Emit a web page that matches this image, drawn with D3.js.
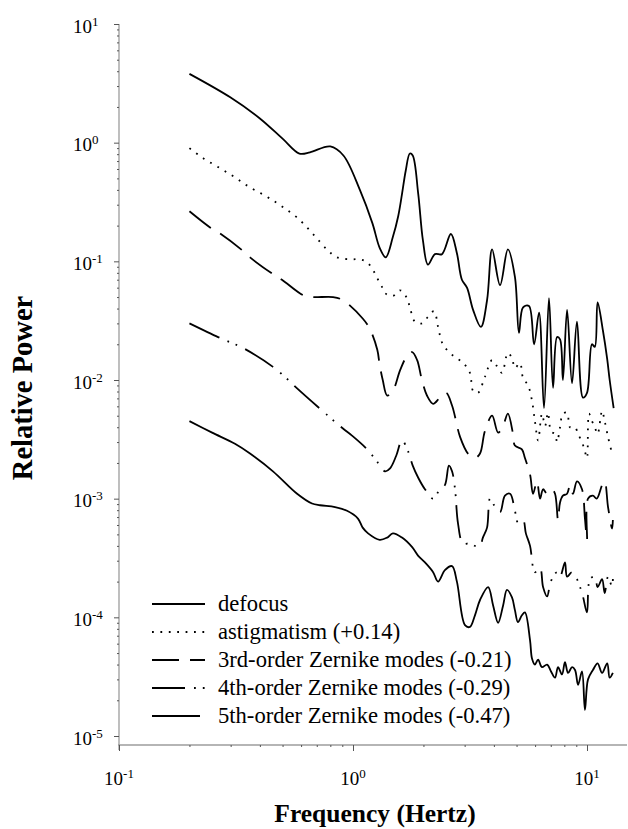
<!DOCTYPE html>
<html>
<head>
<meta charset="utf-8">
<script src="https://cdn.jsdelivr.net/npm/d3@7"></script>
<style>
	body { margin: 0; background: #fff; }
	svg { display: block; }
	text { font-family: "Liberation Serif", "Times New Roman", serif; fill: #000; }
</style>
</head>
<body>
<svg id="chart" width="628" height="829"></svg>
<script>
//Tick values
var xTicks = [0.1, 1, 10];
var yTicks = [1e-5, 1e-4, 1e-3, 1e-2, 1e-1, 1, 10];

//Legend labels
var legendLabels = [
	"defocus",
	"astigmatism (+0.14)",
	"3rd-order Zernike modes (-0.21)",
	"4th-order Zernike modes (-0.29)",
	"5th-order Zernike modes (-0.47)"
];

//Spectra (frequency in Hz, relative power)
var defocusFreq = [0.2,0.3,0.4,0.5,0.59,0.655,0.8,0.91,1.07,1.21,1.3,1.38,1.48,1.56,1.62,1.68,1.75,1.8,1.9,1.99,2.09,2.24,2.4,2.62,2.78,2.92,3.07,3.26,3.52,3.74,3.93,4.25,4.59,4.92,5.12,5.33,5.65,5.94,6.24,6.55,6.88,7.16,7.45,7.67,7.89,8.22,8.63,9.06,9.61,10.0,10.5,10.8,11.1,11.7,12.2,12.5,13.0];
var defocusVals = [3.8,2.4,1.6,1.08,0.81,0.83,0.93,0.78,0.40,0.21,0.13,0.108,0.16,0.24,0.37,0.58,0.81,0.78,0.37,0.15,0.094,0.115,0.115,0.17,0.117,0.070,0.060,0.039,0.028,0.047,0.126,0.063,0.126,0.074,0.025,0.041,0.042,0.020,0.037,0.0058,0.049,0.0086,0.023,0.022,0.010,0.039,0.0094,0.031,0.0071,0.0078,0.020,0.019,0.045,0.026,0.015,0.010,0.0058];

var astigFreq = [0.2,0.229,0.27,0.313,0.363,0.429,0.497,0.582,0.675,0.774,0.855,0.971,1.07,1.15,1.22,1.27,1.33,1.37,1.48,1.59,1.70,1.75,1.84,1.97,2.09,2.22,2.31,2.42,2.68,2.95,3.16,3.26,3.42,3.66,3.93,4.12,4.33,4.59,4.78,4.92,5.17,5.33,5.60,5.82,5.99,6.18,6.42,6.62,6.81,7.02,7.30,7.45,7.67,7.89,8.22,8.46,8.89,9.16,9.52,9.80,10.0,10.2,10.5,10.8,11.1,11.6,11.9,12.3,12.8];
var astigVals = [0.90,0.74,0.61,0.51,0.42,0.35,0.29,0.23,0.17,0.126,0.108,0.104,0.104,0.098,0.084,0.072,0.061,0.054,0.051,0.057,0.049,0.041,0.031,0.030,0.034,0.038,0.028,0.020,0.016,0.014,0.0115,0.0081,0.0078,0.0106,0.0147,0.0131,0.0115,0.0169,0.0153,0.0126,0.0139,0.0104,0.0090,0.0067,0.0045,0.0031,0.0052,0.0041,0.0053,0.0037,0.0035,0.0030,0.0040,0.0052,0.0053,0.0040,0.0040,0.0035,0.0030,0.0025,0.0022,0.0052,0.0045,0.0040,0.0035,0.0055,0.0045,0.0033,0.0024];

var thirdFreq = [0.2,0.245,0.27,0.336,0.363,0.455,0.497,0.611,0.668,0.822,0.906,1.10,1.18,1.27,1.30,1.34,1.40,1.48,1.59,1.70,1.79,1.88,1.97,2.07,2.20,2.35,2.50,2.65,2.87,3.10,3.32,3.49,3.66,3.93,4.17,4.38,4.59,4.83,4.92,5.27,5.43,5.71,5.88,6.11,6.30,6.49,6.75,7.08,7.30,7.52,7.67,7.89,8.22,8.46,8.71,9.06,9.52,9.80,10.0,10.1,10.6,11.0,11.6,11.9,12.3,12.8,12.9];
var thirdVals = [0.264,0.193,0.172,0.124,0.108,0.078,0.070,0.052,0.050,0.050,0.047,0.033,0.027,0.018,0.0134,0.0100,0.0074,0.0081,0.0121,0.0159,0.0172,0.0147,0.0100,0.0074,0.0063,0.0071,0.0078,0.0061,0.0033,0.0024,0.0022,0.0024,0.0037,0.0050,0.0036,0.0041,0.0052,0.0035,0.0028,0.0026,0.0022,0.0016,0.0011,0.0014,0.0010,0.0012,0.0011,0.0012,0.0011,0.00066,0.00093,0.00106,0.0011,0.0013,0.0011,0.0014,0.0012,0.00068,0.00045,0.0010,0.00106,0.0010,0.0013,0.0014,0.00085,0.00056,0.00066];

var fourthFreq = [0.2,0.265,0.29,0.339,0.455,0.538,0.577,0.782,0.906,0.99,1.15,1.28,1.37,1.44,1.53,1.62,1.72,1.80,1.90,2.03,2.20,2.35,2.47,2.57,2.65,2.73,2.81,2.95,3.16,3.32,3.49,3.59,3.74,3.85,4.01,4.25,4.46,4.69,4.92,5.07,5.33,5.48,5.71,5.99,6.30,6.49,6.75,6.95,7.16,7.45,7.67,8.05,8.22,8.63,9.06,9.34,9.61,10.0,10.3,10.8,11.1,11.6,11.9,12.3,12.8,12.9];
var fourthVals = [0.030,0.023,0.0213,0.0186,0.0129,0.0097,0.0085,0.0050,0.0039,0.0034,0.0026,0.0020,0.0017,0.0018,0.0023,0.0031,0.0025,0.0019,0.0015,0.0012,0.0010,0.0012,0.0013,0.0019,0.0017,0.0012,0.00062,0.00042,0.00042,0.00040,0.00040,0.00047,0.00057,0.0010,0.00088,0.00077,0.00106,0.0011,0.00079,0.00063,0.00066,0.00051,0.00040,0.00024,0.00026,0.00018,0.00015,0.00019,0.00022,0.00024,0.00022,0.00029,0.00022,0.00024,0.00021,0.00018,0.00015,0.00011,0.00021,0.00022,0.00018,0.00021,0.00016,0.00022,0.00018,0.00021];

var fifthFreq = [0.2,0.25,0.313,0.363,0.455,0.577,0.668,0.723,0.838,0.943,1.05,1.10,1.16,1.30,1.40,1.48,1.62,1.79,1.90,2.03,2.20,2.31,2.47,2.65,2.78,3.01,3.16,3.32,3.49,3.78,3.97,4.17,4.38,4.55,4.78,4.92,5.07,5.27,5.43,5.71,5.82,5.99,6.18,6.42,6.75,7.02,7.30,7.52,7.82,8.05,8.30,8.63,8.89,9.16,9.52,9.80,10.1,10.6,11.1,11.6,12.2,12.5,12.9];
var fifthVals = [0.0045,0.0036,0.0029,0.0024,0.0017,0.0011,0.00091,0.00088,0.00085,0.00079,0.00068,0.00057,0.00051,0.00045,0.00047,0.00051,0.00047,0.00039,0.00033,0.00029,0.00024,0.00020,0.00025,0.00027,0.00020,8.6e-5,8.3e-5,1.04e-4,1.4e-4,1.8e-4,1.26e-4,9.0e-5,1.26e-4,1.7e-4,1.47e-4,1.15e-4,9.1e-5,1.04e-4,1.1e-4,6.4e-5,4.5e-5,4.0e-5,4.4e-5,3.8e-5,4.0e-5,3.5e-5,3.1e-5,3.8e-5,3.3e-5,4.2e-5,3.4e-5,3.8e-5,3.6e-5,2.7e-5,3.5e-5,1.66e-5,3.0e-5,3.6e-5,4.1e-5,3.4e-5,4.1e-5,3.1e-5,3.4e-5];

var series = [
	{freq: defocusFreq, vals: defocusVals, dash: null, legendEnd: 205},
	{freq: astigFreq, vals: astigVals, dash: "1.8,6.6", legendEnd: 205},
	{freq: thirdFreq, vals: thirdVals, dash: "27,11", legendEnd: 205},
	{freq: fourthFreq, vals: fourthVals, dash: "33,9,1.8,7,1.8,9", legendEnd: 205},
	{freq: fifthFreq, vals: fifthVals, dash: null, legendEnd: 200}
];

var svg = d3.select("#chart");

//Set up the scales
var axisLeftX = 119, axisBottomY = 745;
var xScale = d3.scaleLog().domain([0.1, 10]).range([119, 587]);
var yScale = d3.scaleLog().domain([1e-5, 10]).range([736, 24]);

//Minor tick values
var xMinor = [], yMinor = [];
[0.1, 1, 10].forEach(function(d){
	for (var k = 2; k <= 9; k++){
		if (d * k < 14.5) xMinor.push(d * k);
	}
});
yTicks.slice(0, -1).forEach(function(d){
	for (var k = 2; k <= 9; k++) yMinor.push(d * k);
});

//Axis lines
svg.append("line")
	.attr("x1", axisLeftX).attr("x2", axisLeftX)
	.attr("y1", 24).attr("y2", 750)
	.attr("stroke", "#9c9c9c").attr("stroke-width", 1.3);
svg.append("line")
	.attr("x1", axisLeftX - 1).attr("x2", 627)
	.attr("y1", axisBottomY).attr("y2", axisBottomY)
	.attr("stroke", "#9c9c9c").attr("stroke-width", 1.3);

//Ticks
function styleTicks(g){
	g.select(".domain").remove();
	g.selectAll(".tick line").attr("stroke", "#555").attr("stroke-width", 1);
}
svg.append("g")
	.attr("transform", "translate(" + axisLeftX + ",0)")
	.call(d3.axisLeft(yScale).tickValues(yTicks).tickSize(5).tickFormat(""))
	.call(styleTicks);
svg.append("g")
	.attr("transform", "translate(" + axisLeftX + ",0)")
	.call(d3.axisLeft(yScale).tickValues(yMinor).tickSize(2).tickFormat(""))
	.call(styleTicks);
svg.append("g")
	.attr("transform", "translate(0," + axisBottomY + ")")
	.call(d3.axisBottom(xScale).tickValues(xTicks).tickSize(6).tickFormat(""))
	.call(styleTicks);
svg.append("g")
	.attr("transform", "translate(0," + axisBottomY + ")")
	.call(d3.axisBottom(xScale).tickValues(xMinor).tickSize(2).tickFormat(""))
	.call(styleTicks);

//Tick labels with superscript exponents
function powerLabel(sel){
	sel.append("tspan").text("10");
	sel.append("tspan")
		.attr("dy", -7)
		.attr("font-size", 13)
		.text(function(d){ return String(Math.round(Math.log10(d))); });
}
svg.selectAll(".ylabel")
	.data(yTicks)
	.enter().append("text")
	.attr("class", "ylabel")
	.attr("x", 73)
	.attr("y", function(d){ return yScale(d) + 8.5; })
	.attr("font-size", 19)
	.call(powerLabel);
svg.selectAll(".xlabel")
	.data(xTicks)
	.enter().append("text")
	.attr("class", "xlabel")
	.attr("x", function(d){ return xScale(d); })
	.attr("y", 785)
	.attr("text-anchor", "middle")
	.attr("font-size", 19)
	.call(powerLabel);

//Draw the spectra
var line = d3.line()
	.x(function(d){ return xScale(d[0]); })
	.y(function(d){ return yScale(d[1]); })
	.curve(d3.curveCatmullRom.alpha(0.5));

series.forEach(function(s){
	svg.append("path")
		.datum(d3.zip(s.freq, s.vals))
		.attr("d", line)
		.attr("fill", "none")
		.attr("stroke", "#000")
		.attr("stroke-width", 1.8)
		.attr("stroke-linejoin", "round")
		.attr("stroke-dasharray", s.dash);
});

//Legend
var legend = svg.append("g");
series.forEach(function(s, i){
	var ly = 604 + i * 28;
	legend.append("line")
		.attr("x1", 152).attr("x2", s.legendEnd)
		.attr("y1", ly).attr("y2", ly)
		.attr("stroke", "#000")
		.attr("stroke-width", 1.8)
		.attr("stroke-dasharray", s.dash);
	legend.append("text")
		.attr("x", 218)
		.attr("y", ly + 7)
		.attr("font-size", 22.6)
		.text(legendLabels[i]);
});

//Axis titles
svg.append("text")
	.attr("text-anchor", "middle")
	.attr("transform", "translate(32,388)rotate(-90)")
	.attr("font-size", 28.5)
	.attr("font-weight", "bold")
	.text("Relative Power");
svg.append("text")
	.attr("text-anchor", "middle")
	.attr("x", 375)
	.attr("y", 822)
	.attr("font-size", 25.5)
	.attr("font-weight", "bold")
	.text("Frequency (Hertz)");
</script>
</body>
</html>
